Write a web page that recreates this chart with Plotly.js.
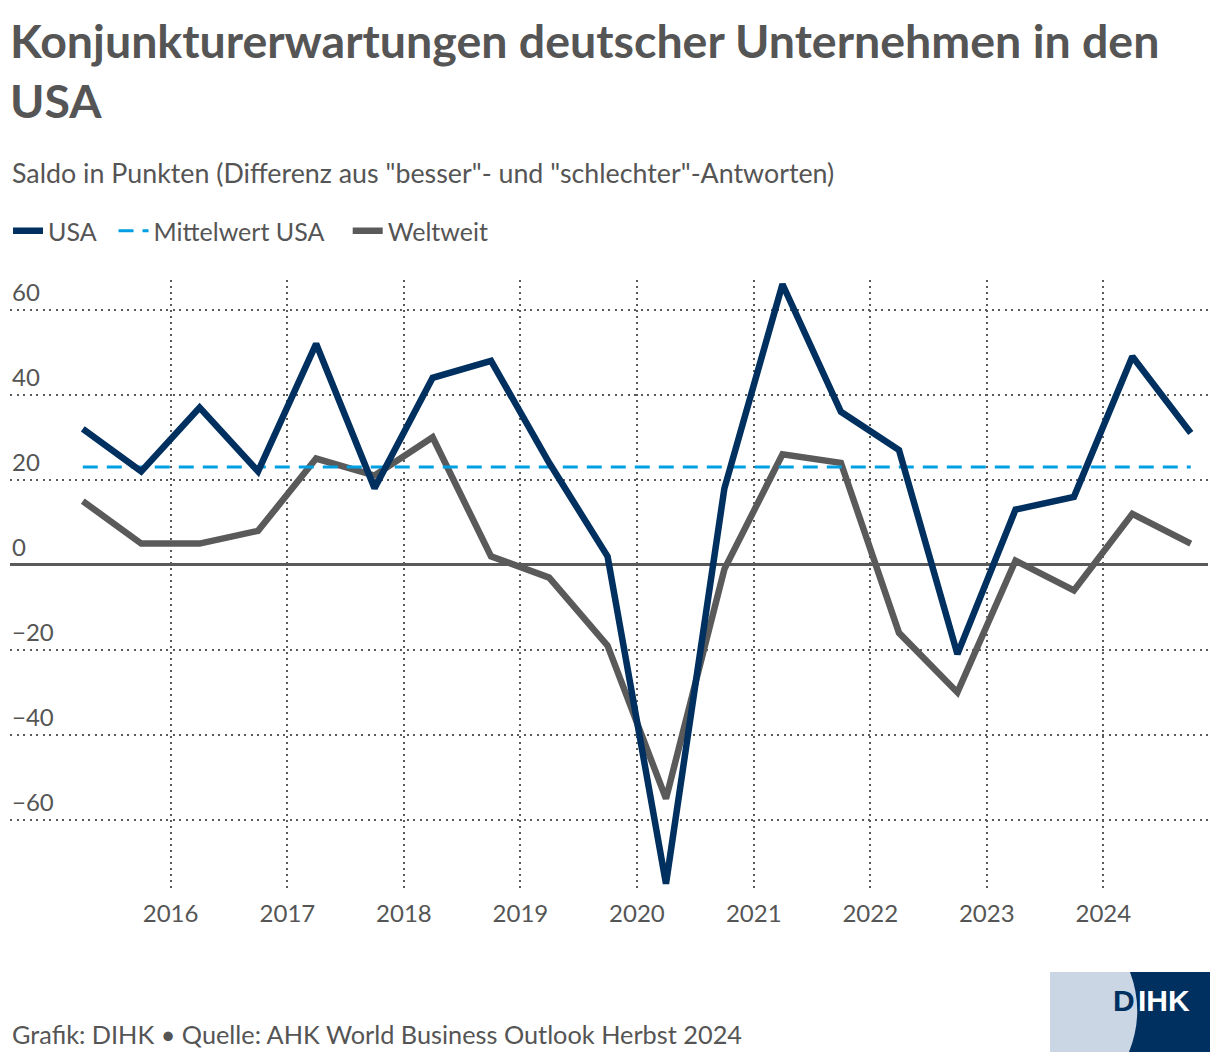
<!DOCTYPE html>
<html>
<head>
<meta charset="utf-8">
<script src="https://cdn.plot.ly/plotly-3.0.1.min.js"></script>
<style>
  html, body { margin: 0; padding: 0; background: #fff; }
  #chart { width: 1220px; height: 1062px; }
</style>
</head>
<body>
<div id="chart"></div>
<script>
// ---- Data ----
const surveyDates = [
  "2015-04-01","2015-10-01","2016-04-01","2016-10-01","2017-04-01","2017-10-01",
  "2018-04-01","2018-10-01","2019-04-01","2019-10-01","2020-04-01","2020-10-01",
  "2021-04-01","2021-10-01","2022-04-01","2022-10-01","2023-04-01","2023-10-01",
  "2024-04-01","2024-10-01"
];
const usaValues = [32, 22, 37, 22, 52, 18, 44, 48, 24, 2, -75, 18, 66, 36, 27, -21, 13, 16, 49, 31];
const weltweitValues = [15, 5, 5, 8, 25, 21, 30, 2, -3, -19, -55, -1, 26, 24, -16, -30, 1, -6, 12, 5];
const mittelwertUSA = 23;
const mittelwertDates = [surveyDates[0], surveyDates[surveyDates.length - 1]];
const yTickValues = [-60, -40, -20, 0, 20, 40, 60];
const yTickLabels = ["\u221260", "\u221240", "\u221220", "0", "20", "40", "60"];
const xTickValues = ["2016-01-01","2017-01-01","2018-01-01","2019-01-01","2020-01-01","2021-01-01","2022-01-01","2023-01-01","2024-01-01"];
const xTickLabels = ["2016","2017","2018","2019","2020","2021","2022","2023","2024"];

const seriesNames = ["USA", "Mittelwert USA", "Weltweit"];

// ---- Styling ----
const W = 1220, H = 1062;
const FONT = "Lato, 'Source Sans Pro', 'Noto Sans', sans-serif";
const TEXT = "#555555";
const NAVY = "#00305f";
const GREY = "#5a5a5a";
const BLUE = "#009fe3";
const NB = "\u00a0";

const plotL = 10, plotR = 1208, plotT = 280, plotB = 888;
const pxX = x => (x - plotL) / (plotR - plotL);
const pxY = y => (plotB - y) / (plotB - plotT);

const usaTrace = {
  x: surveyDates, y: usaValues, name: seriesNames[0] + NB + NB, type: "scatter", mode: "lines",
  line: { color: NAVY, width: 6.5 }, legendrank: 1, hoverinfo: "x+y"
};
const mittelTrace = {
  x: mittelwertDates, y: mittelwertDates.map(() => mittelwertUSA), name: seriesNames[1] + NB + NB + NB,
  type: "scatter", mode: "lines",
  line: { color: BLUE, width: 3, dash: "15px,9px" }, legendrank: 2, hoverinfo: "y"
};
const weltTrace = {
  x: surveyDates, y: weltweitValues, name: seriesNames[2], type: "scatter", mode: "lines",
  line: { color: GREY, width: 6.5 }, legendrank: 3, hoverinfo: "x+y"
};

// y tick labels sit above their gridlines, at the left edge of the plot
const yLabelAnnotations = yTickValues.map((v, i) => ({
  text: yTickLabels[i], xref: "paper", yref: "y", x: 0, y: v,
  xanchor: "left", yanchor: "middle", yshift: 18, xshift: 0, showarrow: false,
  font: { family: FONT, size: 24, color: TEXT }
}));

const layout = {
  width: W, height: H,
  paper_bgcolor: "#ffffff", plot_bgcolor: "#ffffff",
  font: { family: FONT, color: TEXT, size: 24 },
  margin: { l: plotL, r: W - plotR, t: plotT, b: H - plotB, pad: 0 },
  title: {
    text: "Konjunkturerwartungen deutscher Unternehmen in den<br>USA",
    font: { family: FONT, size: 46.5, color: TEXT, weight: 700 },
    x: 10 / W, xref: "container", xanchor: "left",
    y: 1 - 58 / H, yref: "container", yanchor: "top"
  },
  showlegend: true,
  legend: {
    orientation: "h", traceorder: "normal",
    x: 8 / W, xref: "container", xanchor: "left",
    y: 1 - 231 / H, yref: "container", yanchor: "middle",
    font: { family: FONT, size: 25, color: TEXT },
    itemwidth: 30, bgcolor: "rgba(0,0,0,0)"
  },
  xaxis: {
    type: "date",
    range: ["2014-08-16", "2024-11-24"],
    tickvals: xTickValues, ticktext: xTickLabels,
    showgrid: true, gridcolor: GREY, griddash: "1.5px,4.5px", gridwidth: 1.5,
    zeroline: false, showline: false, ticks: "",
    ticklabelstandoff: 9,
    tickfont: { family: FONT, size: 24, color: TEXT },
    fixedrange: true
  },
  yaxis: {
    range: [-76, 67],
    tickvals: yTickValues,
    showticklabels: false,
    showgrid: true, gridcolor: GREY, griddash: "2px,4.5px", gridwidth: 1.8,
    zeroline: true, zerolinecolor: GREY, zerolinewidth: 2.5,
    showline: false, ticks: "",
    fixedrange: true
  },
  annotations: yLabelAnnotations.concat([
    {
      text: 'Saldo in Punkten (Differenz aus "besser"- und "schlechter"-Antworten)',
      xref: "paper", yref: "paper", x: pxX(10), y: pxY(173),
      xanchor: "left", yanchor: "middle", showarrow: false,
      font: { family: FONT, size: 26.8, color: TEXT }
    },
    {
      text: "Grafik: DIHK • Quelle: AHK World Business Outlook Herbst 2024",
      xref: "paper", yref: "paper", x: pxX(10), y: pxY(1034),
      xanchor: "left", yanchor: "middle", showarrow: false,
      font: { family: FONT, size: 25.3, color: TEXT }
    },
    {
      text: "<b>D</b>", xref: "paper", yref: "paper", x: pxX(1111), y: pxY(1000),
      xanchor: "left", yanchor: "middle", showarrow: false,
      font: { family: "'Liberation Sans', Arial, sans-serif", size: 30, color: NAVY }
    },
    {
      text: "<b>IHK</b>", xref: "paper", yref: "paper", x: pxX(1136), y: pxY(1000),
      xanchor: "left", yanchor: "middle", showarrow: false,
      font: { family: "'Liberation Sans', Arial, sans-serif", size: 30, color: "#ffffff" }
    }
  ]),
  shapes: [
    {
      type: "rect", xref: "paper", yref: "paper", layer: "below",
      x0: pxX(1050), x1: pxX(1210), y0: pxY(1052), y1: pxY(972),
      fillcolor: "#cad6e4", line: { width: 0 }
    },
    {
      type: "path", xref: "paper", yref: "paper", layer: "below",
      path: `M ${pxX(1130)} ${pxY(972)} Q ${pxX(1145)} ${pxY(1012)} ${pxX(1129)} ${pxY(1052)} L ${pxX(1210)} ${pxY(1052)} L ${pxX(1210)} ${pxY(972)} Z`,
      fillcolor: NAVY, line: { width: 0 }
    }
  ],
  hovermode: "closest"
};

// draw order: Weltweit at the back, USA on top
Plotly.newPlot("chart", [weltTrace, mittelTrace, usaTrace], layout, { displayModeBar: false, responsive: false });
</script>
</body>
</html>
